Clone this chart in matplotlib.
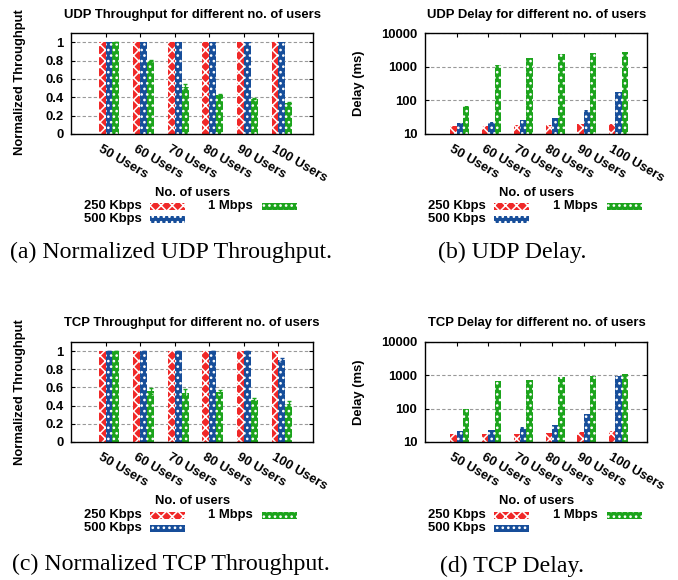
import matplotlib
matplotlib.use("Agg")
import matplotlib.pyplot as plt
from matplotlib.patches import Rectangle
from matplotlib.transforms import ScaledTranslation
import numpy as np

# ---------------- data ----------------
categories = ["50 Users", "60 Users", "70 Users", "80 Users", "90 Users", "100 Users"]
series_names = ["250 Kbps", "500 Kbps", "1 Mbps"]

udp_thr_250 = [1.0, 1.0, 1.0, 1.0, 1.0, 1.0]
udp_thr_500 = [1.0, 1.0, 1.0, 1.0, 1.0, 1.0]
udp_thr_1m = [1.0, 0.80, 0.515, 0.43, 0.385, 0.342]
udp_thr_1m_err = [0.0, 0.005, 0.03, 0.005, 0.005, 0.01]

udp_del_250 = [17.5, 17.5, 18.0, 18.5, 20.0, 20.5]
udp_del_500 = [21.0, 23.5, 26.5, 30.0, 50.0, 175.0]
udp_del_1m = [70.0, 1150.0, 1800.0, 2300.0, 2600.0, 2800.0]

tcp_thr_250 = [1.0, 1.0, 1.0, 1.0, 1.0, 1.0]
tcp_thr_500 = [1.0, 1.0, 1.0, 1.0, 1.0, 0.905]
tcp_thr_500_err = [0.0, 0.0, 0.0, 0.0, 0.0, 0.015]
tcp_thr_1m = [1.0, 0.56, 0.54, 0.555, 0.467, 0.42]
tcp_thr_1m_err = [0.0, 0.035, 0.04, 0.02, 0.02, 0.03]

tcp_del_250 = [16.8, 17.4, 17.8, 19.0, 20.0, 21.0]
tcp_del_500 = [21.5, 23.5, 27.5, 33.0, 71.0, 960.0]
tcp_del_1m = [100.0, 680.0, 740.0, 910.0, 980.0, 1100.0]

titles = ["UDP Throughput for different no. of users",
          "UDP Delay for different no. of users",
          "TCP Throughput for different no. of users",
          "TCP Delay for different no. of users"]
captions = ["(a) Normalized UDP Throughput.", "(b) UDP Delay.",
            "(c) Normalized TCP Throughput.", "(d) TCP Delay."]

# ---------------- style ----------------
W, H = 678, 580
FS = 9.4
COLORS = ["#f02828", "#174e9a", "#1ca41c"]
HATCHES = ["xxx", "...", "..."]
plt.rcParams["font.family"] = ["Liberation Sans", "DejaVu Sans"]
plt.rcParams["font.weight"] = "bold"
plt.rcParams["hatch.linewidth"] = 1.1

fig = plt.figure(figsize=(W / 100, H / 100), dpi=100)


def fx(x):
    return x / W


def fy(y):
    return 1 - y / H


def make_axes(l, t, r, b):
    return fig.add_axes([fx(l), fy(b), (r - l) / W, (b - t) / H])


BW = 0.2


def draw_panel(ax, vals, errs, log, title, tcx, tcy, ylabel, ylx, yly, xlx, xly):
    x = np.arange(len(categories))
    for k in range(3):
        ax.bar(x - BW + k * BW, vals[k], width=BW, align="edge",
               color=COLORS[k], edgecolor="white", linewidth=0,
               hatch=HATCHES[k], zorder=2)
        if errs[k] is not None:
            ax.errorbar(x - BW + k * BW + BW / 2, vals[k], yerr=errs[k],
                        fmt="none", ecolor=COLORS[k], elinewidth=1.0,
                        capsize=1.5, capthick=1.0, zorder=3)
    ax.set_xlim(-1, 6)
    if log:
        ax.set_yscale("log")
        ax.set_ylim(10, 10000)
        ax.set_yticks([10, 100, 1000, 10000])
        ax.set_yticklabels(["10", "100", "1000", "10000"])
        ax.minorticks_off()
    else:
        ax.set_ylim(0, 1.1)
        ax.set_yticks([0, 0.2, 0.4, 0.6, 0.8, 1.0])
        ax.set_yticklabels(["0", "0.2", "0.4", "0.6", "0.8", "1"])
    ax.set_xticks(x)
    ax.set_xticklabels([])
    ax.tick_params(axis="both", direction="in", length=3, width=0.8,
                   top=True, right=True, labelsize=FS)
    ax.tick_params(axis="y", pad=5.5)
    for lbl in ax.get_yticklabels():
        lbl.set_fontweight("bold")
    ax.yaxis.grid(True, linestyle=(0, (3, 2)), color="#999999", linewidth=0.8)
    ax.set_axisbelow(True)
    for s in ax.spines.values():
        s.set_linewidth(1.0)
    tr = ax.get_xaxis_transform() + ScaledTranslation(-3 / 100, -9 / 100, fig.dpi_scale_trans)
    for i, c in enumerate(categories):
        ax.text(i, 0, c, transform=tr, rotation=-30, ha="left", va="top",
                rotation_mode="anchor", fontsize=FS, fontweight="bold")
    fig.text(fx(tcx), fy(tcy), title, ha="center", va="center", fontsize=FS,
             fontweight="bold")
    fig.text(fx(ylx), fy(yly), ylabel, ha="center", va="center", rotation=90,
             fontsize=FS, fontweight="bold")
    fig.text(fx(xlx), fy(xly), "No. of users", ha="center", va="center",
             fontsize=FS, fontweight="bold")


def draw_legend(x_text1, x_sw1, x_text2, x_sw2, y1, y2):
    sw_w, sw_h = 35, 7
    entries = [(x_text1, x_sw1, y1), (x_text1, x_sw1, y2), (x_text2, x_sw2, y1)]
    for k, (xt, xs, yy) in enumerate(entries):
        fig.text(fx(xt), fy(yy), series_names[k], ha="right", va="center",
                 fontsize=FS, fontweight="bold")
        fig.add_artist(Rectangle((fx(xs), fy(yy + sw_h / 2)), sw_w / W, sw_h / H,
                                 transform=fig.transFigure, facecolor=COLORS[k],
                                 edgecolor="white", linewidth=0, hatch=HATCHES[k]))


ax_a = make_axes(71, 33, 313, 134)
draw_panel(ax_a, [udp_thr_250, udp_thr_500, udp_thr_1m], [None, None, udp_thr_1m_err],
           False, titles[0], 192, 15, "Normalized Throughput", 20, 82.5, 192.5, 193)
ax_b = make_axes(425, 33, 647, 134)
draw_panel(ax_b, [udp_del_250, udp_del_500, udp_del_1m], [None, None, None],
           True, titles[1], 537, 15, "Delay (ms)", 359, 83, 537, 193)
ax_c = make_axes(71, 342, 313, 442)
draw_panel(ax_c, [tcp_thr_250, tcp_thr_500, tcp_thr_1m], [None, tcp_thr_500_err, tcp_thr_1m_err],
           False, titles[2], 192, 323, "Normalized Throughput", 20, 392.5, 192.5, 501.5)
ax_d = make_axes(425, 342, 647, 442)
draw_panel(ax_d, [tcp_del_250, tcp_del_500, tcp_del_1m], [None, None, None],
           True, titles[3], 537, 323, "Delay (ms)", 359, 392.5, 537, 501.5)

draw_legend(142, 150, 253, 262, 206, 219)
draw_legend(486, 494, 598, 607, 206, 219)
draw_legend(142, 150, 253, 262, 515, 528)
draw_legend(486, 494, 598, 607, 515, 528)

cap_font = ["Liberation Serif", "DejaVu Serif"]
CFS = 17.2
fig.text(fx(171), fy(252), captions[0], ha="center", va="center", fontsize=CFS,
         family=cap_font, fontweight="normal")
fig.text(fx(512), fy(252), captions[1], ha="center", va="center", fontsize=CFS,
         family=cap_font, fontweight="normal")
fig.text(fx(171), fy(564), captions[2], ha="center", va="center", fontsize=CFS,
         family=cap_font, fontweight="normal")
fig.text(fx(512), fy(566), captions[3], ha="center", va="center", fontsize=CFS,
         family=cap_font, fontweight="normal")

fig.savefig("out.png", dpi=100)
